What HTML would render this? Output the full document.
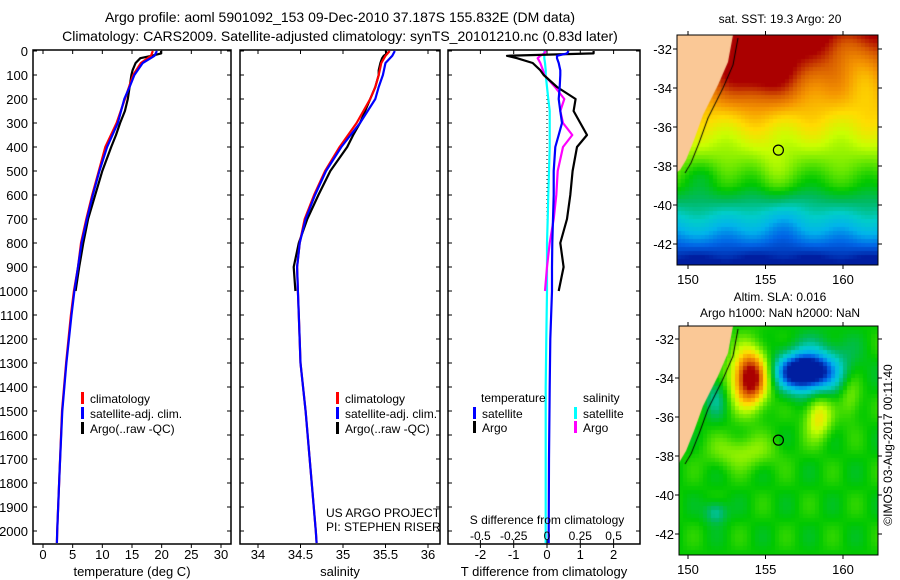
<!DOCTYPE html>
<html><head><meta charset="utf-8"><style>
html,body{margin:0;padding:0;background:#fff;}
#wrap{position:relative;width:900px;height:580px;overflow:hidden;font-family:"Liberation Sans",sans-serif;}
canvas{position:absolute;}
svg{position:absolute;left:0;top:0;}
</style></head><body>
<div id="wrap">
<canvas id="sst" width="201" height="230" style="left:677px;top:35px"></canvas>
<canvas id="sla" width="199" height="229" style="left:679px;top:326px"></canvas>
<svg id="fig" width="900" height="580"></svg>
</div>
<script>
// ---- data ----
const depthsT = [0,20,50,100,150,200,300,400,500,600,700,800,900,1000,1100,1300,1500,1750,2000,2050];
const climT   = [18.5,18.2,16.5,15.2,14.5,13.8,12.4,10.5,9.4,8.3,7.3,6.4,5.9,5.2,4.7,3.9,3.2,2.8,2.4,2.35];
const satT    = [19.2,18.8,16.8,15.4,14.6,13.7,12.6,10.8,9.5,8.4,7.4,6.5,5.9,5.3,4.8,3.95,3.25,2.8,2.4,2.35];
const depthsA = [0,10,20,30,50,80,100,150,200,250,300,350,400,500,600,700,800,900,1000];
const argoT   = [19.9,19.9,18.3,16.4,15.6,15.1,14.9,14.6,14.3,13.8,13.0,12.3,11.5,10.0,8.8,7.6,6.8,6.1,5.5];
const climS   = [35.55,35.5,35.45,35.42,35.38,35.32,35.16,34.96,34.79,34.66,34.55,34.49,34.46,34.47,34.48,34.5,34.56,34.62,34.68,34.69];
const satS    = [35.61,35.58,35.5,35.47,35.42,35.38,35.2,34.98,34.8,34.67,34.56,34.49,34.46,34.47,34.48,34.5,34.56,34.62,34.68,34.69];
const argoS   = [35.5,35.52,35.48,35.46,35.44,35.42,35.42,35.38,35.32,35.26,35.2,35.12,35.05,34.85,34.71,34.58,34.48,34.42,34.44];
const dT_argo = [1.4,1.4,-1.2,-0.9,-0.43,-0.2,-0.1,0.3,0.86,0.8,1.0,1.2,0.9,0.77,0.7,0.6,0.4,0.5,0.35];
const dT_sat  = [0.65,0.6,0.3,0.3,0.35,0.4,0.4,0.38,0.35,0.4,0.45,0.35,0.25,0.2,0.2,0.18,0.16,0.15,0.15,0.1,0.08,0.06,0.05,0.05];
const depthsD = [0,10,20,30,50,80,100,150,200,250,300,350,400,500,600,700,800,900,1000,1200,1400,1700,2000,2050];
const dS_argo = [-0.01,-0.02,-0.05,-0.07,-0.05,-0.03,-0.02,0.06,0.13,0.1,0.12,0.19,0.12,0.08,0.07,0.05,0.02,0.0,-0.015];
const dS_sat  = [-0.02,-0.02,-0.02,-0.02,-0.015,-0.01,-0.01,0.0,0.01,0.02,0.02,0.02,0.02,0.015,0.01,0.005,0.0,0.0,0.0,-0.005,-0.01,-0.01,-0.01,-0.01];
const depthTicks = [0,100,200,300,400,500,600,700,800,900,1000,1100,1200,1300,1400,1500,1600,1700,1800,1900,2000];
const tTicks = [0,5,10,15,20,25,30];
const sTicks = [34,34.5,35,35.5,36];
const dTTicks = [-2,-1,0,1,2];
const dSTicks = [-0.5,-0.25,0,0.25,0.5];
const dSTickLabels = ["-0.5","-0.25","0","0.25","0.5"];
const latTicks = [-32,-34,-36,-38,-40,-42];
const lonTicks = [150,155,160];

const NS="http://www.w3.org/2000/svg";
const svg=document.getElementById('fig');
function el(tag,attrs,parent){const e=document.createElementNS(NS,tag);for(const k in attrs)e.setAttribute(k,attrs[k]);(parent||svg).appendChild(e);return e;}
function txt(x,y,s,anchor,size,parent){const t=el('text',{x:x,y:y,'text-anchor':anchor||'start','font-size':size||13,fill:'#000'},parent);t.textContent=s;return t;}

const yD = d => 51 + d*0.24;
const xT = v => 43 + v*5.933;
const xS = v => 258 + (v-34)*85;
const xDT = v => 547 + v*33.3;
const xDS = v => 547 + v*133.2;

let t1=txt(340,22,"Argo profile: aoml 5901092_153 09-Dec-2010 37.187S 155.832E (DM data)",'middle',14);

let t2=txt(340,41,"Climatology: CARS2009. Satellite-adjusted climatology: synTS_20101210.nc (0.83d later)",'middle',14);


function panel(name,x0,x1,xs,xticks,xlabels,xtitle){
  const g=el('g',{});
  
  
  el('rect',{x:x0,y:yD(0)-1,width:x1-x0,height:yD(2050)-yD(0)+2,fill:'none',stroke:'#000','stroke-width':1.5},g);
  depthTicks.forEach(d=>{
    el('line',{x1:x0,x2:x0+4,y1:yD(d),y2:yD(d),stroke:'#000'},g);
    el('line',{x1:x1,x2:x1-4,y1:yD(d),y2:yD(d),stroke:'#000'},g);
  });
  xticks.forEach((v,i)=>{
    const x=xs(v);
    el('line',{x1:x,x2:x,y1:yD(2050)+1,y2:yD(2050)+5,stroke:'#000'},g);
    el('line',{x1:x,x2:x,y1:yD(0)-1,y2:yD(0)+3,stroke:'#000'},g);
    txt(x,559,xlabels[i],'middle',13,g);
  });
  txt((x0+x1)/2,576,xtitle,'middle',13,g);
  return g;
}
function line(g,xs,ys,color,name){
  const p=xs.map((v,i)=>(i?'L':'M')+v.toFixed(1)+','+ys[i].toFixed(1)).join(' ');
  const e=el('path',{d:p,fill:'none',stroke:color,'stroke-width':2.2,'stroke-linejoin':'round'},g);
  
  
}
function legend(g,x,y,color,label,name){
  const r=el('rect',{x:x,y:y-10,width:3,height:12,fill:color},g);
  
  const t=txt(x+9,y+1,label,'start',12,g);
  
}

const p1=panel('temperature-panel',33,231,xT,tTicks,tTicks.map(String),'temperature (deg C)');
depthTicks.forEach(d=>{txt(28,yD(d)+5,String(d),'end',13,p1);});
line(p1,argoT.map(xT),depthsA.map(yD),'#000','argo-temperature-line');
line(p1,climT.map(xT),depthsT.map(yD),'#f00','clim-temperature-line');
line(p1,satT.map(xT),depthsT.map(yD),'#00f','sat-temperature-line');
legend(p1,81,402,'#f00','climatology','legend-climatology');
legend(p1,81,417,'#00f','satellite-adj. clim.','legend-satellite');
legend(p1,81,432,'#000','Argo(..raw -QC)','legend-argo');

const p2=panel('salinity-panel',240,440,xS,sTicks,sTicks.map(String),'salinity');
line(p2,argoS.map(xS),depthsA.map(yD),'#000','argo-salinity-line');
line(p2,climS.map(xS),depthsT.map(yD),'#f00','clim-salinity-line');
line(p2,satS.map(xS),depthsT.map(yD),'#00f','sat-salinity-line');
legend(p2,336,402,'#f00','climatology','legend-climatology-s');
legend(p2,336,417,'#00f','satellite-adj. clim.','legend-satellite-s');
legend(p2,336,432,'#000','Argo(..raw -QC)','legend-argo-s');
txt(326,517,'US ARGO PROJECT','start',12,p2);
txt(326,531,'PI: STEPHEN RISER','start',12,p2);

const p3=panel('difference-panel',448,640,xDT,dTTicks,dTTicks.map(String),'T difference from climatology');
el('line',{x1:547,x2:547,y1:yD(150),y2:yD(1000),stroke:'#000','stroke-dasharray':'1,3'},p3);
line(p3,dS_sat.map(xDS),depthsD.map(yD),'#0ff','sat-salinity-diff-line');
line(p3,dS_argo.map(xDS),depthsA.map(yD),'#f0f','argo-salinity-diff-line');
line(p3,dT_argo.map(xDT),depthsA.map(yD),'#000','argo-temperature-diff-line');
line(p3,dT_sat.map(xDT),depthsD.map(yD),'#00f','sat-temperature-diff-line');
txt(481,402,'temperature','start',12,p3);
txt(583,402,'salinity','start',12,p3);
legend(p3,473,417,'#00f','satellite','legend-t-satellite');
legend(p3,473,431,'#000','Argo','legend-t-argo');
legend(p3,574,417,'#0ff','satellite','legend-s-satellite');
legend(p3,574,431,'#f0f','Argo','legend-s-argo');
txt(547,524,'S difference from climatology','middle',12,p3);
dSTicks.forEach((v,i)=>{txt(xDS(v),540,dSTickLabels[i],'middle',12,p3);el('line',{x1:xDS(v),x2:xDS(v),y1:yD(2050)+1,y2:yD(2050)-3,stroke:'#000'},p3);});

// ---- maps ----
const cmapStops=[[0,30,160],[0,100,230],[0,180,235],[0,205,200],[0,185,100],[0,200,0],[100,230,0],[200,255,0],[255,220,0],[245,150,0],[215,90,0],[170,0,0]];
function cmap(t){t=Math.max(0,Math.min(0.9999,t));const f=t*(cmapStops.length-1);const i=Math.floor(f),u=f-i;const a=cmapStops[i],b=cmapStops[i+1];
  return a.map((v,k)=>Math.round(v+(b[k]-v)*u));}
const coast=[[733,0],[728,27],[718,50],[703,80],[694,105],[686,125],[680,135]];
const g=(lo,la,l0,a0,sl,sa)=>Math.exp(-((lo-l0)**2/(2*sl*sl)+(la-a0)**2/(2*sa*sa)));
function drawMap(id,ox,oy,lat0y,fn){
  const cv=document.getElementById(id),ctx=cv.getContext('2d');const W=cv.width,H=cv.height;
  for(let y=0;y<H;y+=4)for(let x=0;x<W;x+=4){
    const X=ox+x+2,Y=oy+y+2;const lon=150+(X-688)/15.5,lat=-32-(Y-lat0y)/19.5;
    const c=cmap(fn(lon,lat));ctx.fillStyle='rgb('+c+')';ctx.fillRect(x,y,4,4);}
  ctx.fillStyle='#fac896';ctx.beginPath();ctx.moveTo(0,0);
  coast.forEach(p=>ctx.lineTo(p[0]-ox,p[1]));ctx.lineTo(0,coast[coast.length-1][1]+2);ctx.closePath();ctx.fill();
  ctx.strokeStyle='#000';ctx.lineWidth=1;ctx.beginPath();
  coast.forEach((p,i)=>{const yy=p[1]+3;const xx=p[0]-ox+5;i?ctx.lineTo(xx,yy):ctx.moveTo(xx,yy);});ctx.stroke();
}
drawMap('sst',677,35,49,(lo,la)=>{
  return 0.62+(la+37)*0.075-0.05*Math.max(0,-39-la)+0.03*Math.sin(lo*1.7)*Math.cos(la*1.3)+0.2*g(lo,la,154.5,-33,1.6,1.3)
   -0.12*g(lo,la,161,-32.5,1.2,1.5)-0.06*g(lo,la,156,-40.5,1.5,1)+0.06*g(lo,la,155.5,-38.5,0.8,1.2)-0.05*g(lo,la,151,-38.5,0.8,0.6);});
drawMap('sla',679,326,339,(lo,la)=>{
  let v=0.7*g(lo,la,154,-34,0.8,1.0)-0.6*g(lo,la,157.4,-33.7,1.2,0.65)-0.2*g(lo,la,158.5,-33.5,1.5,1)+0.28*g(lo,la,158.4,-36,0.6,0.8)
   -0.18*g(lo,la,151.8,-40.9,0.5,0.4)-0.14*g(lo,la,151.8,-35,0.5,0.7)+0.15*g(lo,la,153.5,-37.8,1.5,0.6)+0.14*g(lo,la,160.5,-35,0.5,0.8)
   +0.04*Math.sin(lo*2.1)*Math.sin(la*1.9);
  return 0.46+v*0.9;});

function mapFrame(name,x0,y0,x1,y1,lat0y,titleLines){
  const gg=el('g',{});
  
  
  el('rect',{x:x0,y:y0,width:x1-x0,height:y1-y0,fill:'none',stroke:'#000','stroke-width':1},gg);
  latTicks.forEach(l=>{const y=lat0y+(-32-l)*19.5;el('line',{x1:x0,x2:x0-4,y1:y,y2:y,stroke:'#000'},gg);el('line',{x1:x1,x2:x1+4,y1:y,y2:y,stroke:'#000'},gg);txt(x0-5,y+5,String(l),'end',13,gg);});
  lonTicks.forEach(l=>{const x=688+(l-150)*15.5;el('line',{x1:x,x2:x,y1:y1,y2:y1+4,stroke:'#000'},gg);el('line',{x1:x,x2:x,y1:y0,y2:y0-4,stroke:'#000'},gg);txt(x,y1+19,String(l),'middle',13,gg);});
  const cx=688+5.832*15.5,cy=lat0y+5.187*19.5;
  const m=el('circle',{cx:cx,cy:cy,r:5,fill:'none',stroke:'#000','stroke-width':1.2},gg);
  
  titleLines.forEach(tl=>txt(780,tl[1],tl[0],'middle',12,gg));
}
mapFrame('sst-map-frame',677,35,878,265,49,[['sat. SST: 19.3 Argo: 20',23]]);
mapFrame('sla-map-frame',679,326,878,555,339,[['Altim. SLA: 0.016',301],['Argo h1000: NaN h2000: NaN',317]]);
const cp=txt(0,0,'©IMOS 03-Aug-2017 00:11:40','middle',12);
cp.setAttribute('transform','translate(892,445) rotate(-90)');

</script>
</body></html>
